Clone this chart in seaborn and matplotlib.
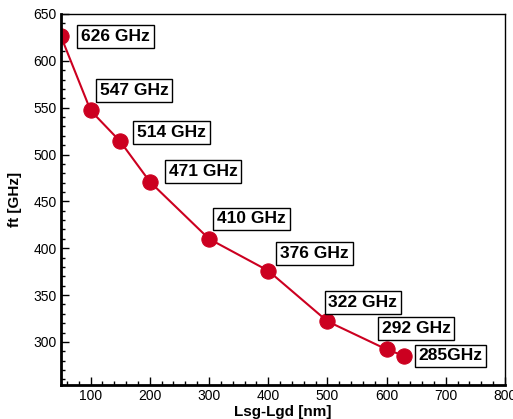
import matplotlib
matplotlib.use("Agg")
import matplotlib.pyplot as plt
from matplotlib.ticker import MultipleLocator
import seaborn as sns
import pandas as pd

x_nm = [50, 100, 150, 200, 300, 400, 500, 600, 630]
ft_ghz = [626, 547, 514, 471, 410, 376, 322, 292, 285]
labels = ["626 GHz", "547 GHz", "514 GHz", "471 GHz", "410 GHz", "376 GHz",
          "322 GHz", "292 GHz", "285GHz"]
offsets = [(20, 0), (9, 20), (17, 9), (19, 10), (8, 20), (12, 17), (1, 19), (-5, 21), (14, 0)]

sns.set_theme(style="white")
plt.rcParams['font.family'] = ['Liberation Sans', 'DejaVu Sans']
plt.rcParams['text.color'] = 'black'
plt.rcParams['axes.labelcolor'] = 'black'

df = pd.DataFrame({"x": x_nm, "y": ft_ghz})
fig = plt.figure(figsize=(5.13, 4.19), dpi=100)
ax = fig.add_axes([61/513, 1 - 385/419, 444/513, 371/419])
color = "#cc0020"
sns.lineplot(data=df, x="x", y="y", ax=ax, color=color, linewidth=1.5,
             marker="o", markersize=11, markeredgecolor=color, markerfacecolor=color)

for xv, yv, lab, (dx, dy) in zip(x_nm, ft_ghz, labels, offsets):
    ax.annotate(lab, (xv, yv), xytext=(dx, dy), textcoords="offset pixels",
                ha="left", va="center", fontsize=12.5, fontweight="bold", color="black",
                bbox=dict(boxstyle="square,pad=0.22", fc="white", ec="black", lw=1))

ax.set_xlim(50, 800)
ax.set_ylim(254, 650)
ax.xaxis.set_major_locator(MultipleLocator(100))
ax.xaxis.set_minor_locator(MultipleLocator(20))
ax.yaxis.set_major_locator(MultipleLocator(50))
ax.yaxis.set_minor_locator(MultipleLocator(10))
ax.set_xticks([100, 200, 300, 400, 500, 600, 700, 800])
ax.tick_params(which="both", direction="in", bottom=True, left=True, top=False, right=False,
               labelsize=10, colors="black", pad=3)
ax.tick_params(which="major", length=6, width=1)
ax.tick_params(which="minor", length=3, width=1)
for s in ax.spines.values():
    s.set_color("black")
    s.set_linewidth(1)
ax.spines["bottom"].set_linewidth(2)
ax.spines["left"].set_linewidth(2)
ax.set_xlabel("Lsg-Lgd [nm]", fontsize=11, fontweight="bold", labelpad=1)
ax.set_ylabel("ft [GHz]", fontsize=11, fontweight="bold", labelpad=8)
ax.grid(False)
fig.savefig("out.png", dpi=100)
